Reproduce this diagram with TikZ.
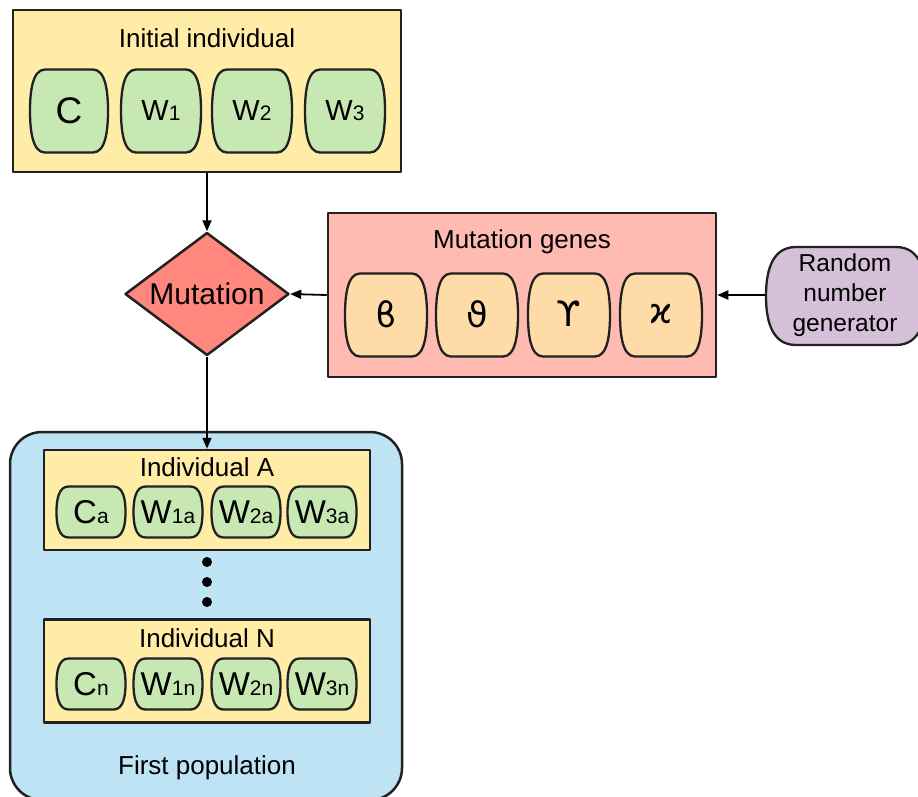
\documentclass[tikz,border=0pt]{standalone}
\usepackage{fontspec}
\setmainfont{Liberation Sans}
\newfontfamily\greekfont{DejaVu Sans}
\usetikzlibrary{shapes.geometric,arrows.meta}
\definecolor{ffeeaa}{rgb}{1.,0.925,0.655}
\definecolor{cce8b4}{rgb}{0.78,0.91,0.70}
\definecolor{ffbbb3}{rgb}{1.,0.73,0.70}
\definecolor{ffdba8}{rgb}{1.,0.86,0.66}
\definecolor{ff8a80}{rgb}{1.,0.53,0.49}
\definecolor{d5bfd8}{rgb}{0.84,0.75,0.85}
\definecolor{bde2f3}{rgb}{0.74,0.89,0.96}
\definecolor{qqqqqq}{rgb}{0.13,0.13,0.13}
\newcommand{\bigw}[2]{{\fontsize{29}{29}\selectfont #1}{\fontsize{21}{21}\selectfont #2}}
\newcommand{\smallw}[2]{{\fontsize{33}{33}\selectfont #1}{\fontsize{21}{21}\selectfont #2}}
% barrel outline: x, y, half width, half height, flat inset, fill
\newcommand{\barrel}[6]{\filldraw[draw=qqqqqq,line width=2.3pt,fill=#6,shift={(#1,#2)}]
  (-#3+#5,-#4) -- (#3-#5,-#4) .. controls (#3-0.15*#5,-#4) and (#3,-0.45*#4) .. (#3,0)
  .. controls (#3,0.45*#4) and (#3-0.15*#5,#4) .. (#3-#5,#4) -- (-#3+#5,#4)
  .. controls (-#3+0.15*#5,#4) and (-#3,0.45*#4) .. (-#3,0)
  .. controls (-#3,-0.45*#4) and (-#3+0.15*#5,-#4) .. cycle;}
\tikzset{
  box/.style={draw=qqqqqq,line width=2.5pt,rectangle,inner sep=0pt},
  gene/.style={inner sep=0pt},
  greek/.style={inner sep=0pt,font=\greekfont\fontsize{35}{35}\selectfont},
  title/.style={font=\fontsize{26}{26}\selectfont,inner sep=0pt},
  link/.style={line width=1.8pt,-{Triangle[length=11pt,width=9pt]}}
}
\begin{document}
\begin{tikzpicture}[x=1pt,y=-1pt,line join=round]
\clip (0,0) rectangle (918,796);
\useasboundingbox (0,0) rectangle (918,796);
% initial individual
\node[box,fill=ffeeaa,minimum width=388pt,minimum height=162pt] (init) at (207,91) {};
\node[title] (initt) at (207,38) {Initial individual};
\barrel{69}{111}{39}{41.5}{15}{cce8b4}
\barrel{161}{111}{40}{41.5}{15}{cce8b4}
\barrel{252}{111}{40}{41.5}{15}{cce8b4}
\barrel{345}{111}{40}{41.5}{15}{cce8b4}
\node[gene] (c) at (69,111) {\fontsize{37}{37}\selectfont C};
\node[gene] (w1) at (161,111) {\bigw{W}{1}};
\node[gene] (w2) at (252,111) {\bigw{W}{2}};
\node[gene] (w3) at (345,111) {\bigw{W}{3}};
% mutation
\node[diamond,aspect=1.333,draw=qqqqqq,line width=2.5pt,fill=ff8a80,minimum width=164pt,minimum height=123pt,inner sep=0pt,font=\fontsize{30}{30}\selectfont] (mut) at (207,294) {Mutation};
\node[box,fill=ffbbb3,minimum width=388pt,minimum height=164pt] (mgenes) at (522,295) {};
\node[title] (mgenest) at (522,242) {Mutation genes};
\barrel{386}{315}{41}{41.5}{15}{ffdba8}
\barrel{477}{315}{41}{41.5}{15}{ffdba8}
\barrel{569}{315}{41}{41.5}{15}{ffdba8}
\barrel{661}{315}{41}{41.5}{15}{ffdba8}
\node[greek] (beta) at (386,314) {ϐ};
\node[greek] (theta) at (477,314) {ϑ};
\node[greek] (ups) at (569,314) {ϒ};
\node[greek] (kappa) at (661,314) {ϰ};
\barrel{846}{296}{80}{49}{30}{d5bfd8}
\node[gene,align=center,font=\fontsize{24.5}{30}\selectfont,minimum width=160pt,minimum height=98pt] (rng) at (845,295) {Random\\number\\generator};
% first population
\node[draw=qqqqqq,line width=2.5pt,fill=bde2f3,rounded corners=32pt,minimum width=392pt,minimum height=368pt] (pop) at (206,616) {};
\node[title] (popt) at (207,768) {First population};
\node[box,fill=ffeeaa,minimum width=326pt,minimum height=100pt] (inda) at (207,500) {};
\node[title] (indat) at (207,467) {Individual A};
\foreach \x in {91,168,246,322} {\barrel{\x}{512}{34.5}{25.5}{12}{cce8b4}}
\node[gene] (ca) at (91,512) {\smallw{C}{a}};
\node[gene] (w1a) at (168,512) {\smallw{W}{1a}};
\node[gene] (w2a) at (246,512) {\smallw{W}{2a}};
\node[gene] (w3a) at (322,512) {\smallw{W}{3a}};
\fill[black] (207,562) circle (5pt);
\fill[black] (207,582) circle (5pt);
\fill[black] (207,602) circle (5pt);
\node[box,fill=ffeeaa,minimum width=326pt,minimum height=103pt] (indn) at (207,671) {};
\node[title] (indnt) at (207,638) {Individual N};
\foreach \x in {91,168,246,322} {\barrel{\x}{684}{34.5}{25.5}{12}{cce8b4}}
\node[gene] (cn) at (91,684) {\smallw{C}{n}};
\node[gene] (w1n) at (168,684) {\smallw{W}{1n}};
\node[gene] (w2n) at (246,684) {\smallw{W}{2n}};
\node[gene] (w3n) at (322,684) {\smallw{W}{3n}};
% arrows
\draw[link] (init.south) -- (mut.north);
\draw[link] (mgenes.west) -- (mut.east);
\draw[link] (rng.west) -- (mgenes.east);
\draw[link] (mut.south) -- (inda.north);
\end{tikzpicture}
\end{document}
